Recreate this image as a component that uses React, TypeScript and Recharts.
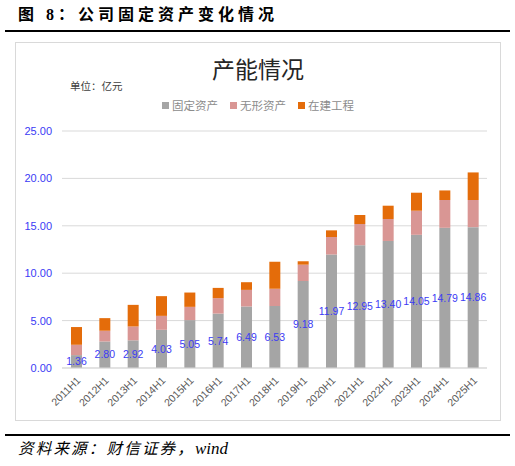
import React from 'react';
import { BarChart, Bar, XAxis, YAxis, CartesianGrid, Legend, LabelList } from 'recharts';

const periods = ['2011H1', '2012H1', '2013H1', '2014H1', '2015H1', '2016H1', '2017H1', '2018H1',
  '2019H1', '2020H1', '2021H1', '2022H1', '2023H1', '2024H1', '2025H1'];
const fixedAssets = [1.36, 2.80, 2.92, 4.03, 5.05, 5.74, 6.49, 6.53, 9.18, 11.97, 12.95, 13.40, 14.05, 14.79, 14.86];
const intangibleAssets = [1.09, 1.13, 1.46, 1.47, 1.40, 1.63, 1.75, 1.82, 1.72, 1.85, 2.24, 2.32, 2.54, 2.93, 2.86];
const construction = [1.87, 1.33, 2.28, 2.08, 1.51, 1.08, 0.81, 2.87, 0.36, 0.70, 0.95, 1.40, 1.90, 1.01, 2.91];
const yTicks = [0, 5, 10, 15, 20, 25];

const seriesNames = ['固定资产', '无形资产', '在建工程'];
const colors = ['#a5a5a5', '#d99694', '#e46c0a'];

const data = periods.map((p, i) => ({
  period: p,
  fixed: fixedAssets[i],
  intangible: intangibleAssets[i],
  construction: construction[i],
}));

const BLUE = '#3b3bf5';

const XTick = (props: any) => {
  const { x, y, payload } = props;
  return (
    <text
      x={x + 5}
      y={y + 5}
      transform={`rotate(-45, ${x + 5}, ${y + 5})`}
      textAnchor="end"
      fill="#595959"
      fontSize={10.5}
      fontFamily="'Liberation Sans', Arial, sans-serif"
    >
      {payload.value}
    </text>
  );
};

const LegendBox = () => (
  <div style={{ display: 'flex', alignItems: 'center', fontFamily: "'Noto Sans CJK SC', sans-serif", fontSize: 11.5, color: '#8c8c8c' }}>
    {seriesNames.map((n, i) => (
      <div key={n} style={{ display: 'flex', alignItems: 'center', marginRight: 12 }}>
        <span style={{ width: 7, height: 7, background: colors[i], marginRight: 3, display: 'inline-block' }} />
        <span>{n}</span>
      </div>
    ))}
  </div>
);

export default function App() {
  return (
    <div style={{ position: 'absolute', left: 0, top: 0, width: 515, height: 466, background: '#fff' }}>
      <div style={{
        position: 'absolute', left: 18, top: 4, fontSize: 16, fontWeight: 'bold', letterSpacing: 4,
        fontFamily: "'Liberation Serif', 'Noto Sans CJK SC', serif", color: '#000', lineHeight: '22px', whiteSpace: 'nowrap',
      }}>
        图 8：公司固定资产变化情况
      </div>
      <div style={{ position: 'absolute', left: 5, top: 30, width: 505, height: 2, background: '#000' }} />

      <div style={{ position: 'absolute', left: 15, top: 42, width: 486, height: 379, border: '1px solid #d9d9d9', boxSizing: 'border-box' }}>
        <div style={{
          position: 'absolute', left: 0, width: '100%', top: 9, textAlign: 'center', fontSize: 23,
          fontFamily: "'Noto Sans CJK SC', sans-serif", color: '#262626', lineHeight: '32px',
        }}>
          产能情况
        </div>
        <div style={{
          position: 'absolute', left: 54, top: 35, fontSize: 10.5,
          fontFamily: "'Noto Sans CJK SC', sans-serif", color: '#404040', lineHeight: '16px',
        }}>
          单位：亿元
        </div>
        <BarChart width={484} height={377} data={data} margin={{ top: 88, right: 13, left: 0, bottom: 0 }}>
          <CartesianGrid vertical={false} stroke="#d9d9d9" />
          <XAxis
            dataKey="period"
            interval={0}
            height={52}
            tickLine={false}
            axisLine={{ stroke: '#d9d9d9' }}
            tick={<XTick />}
          />
          <YAxis
            width={46}
            domain={[0, 25]}
            ticks={yTicks}
            tickFormatter={(v: number) => v.toFixed(2)}
            tickLine={false}
            axisLine={false}
            tickMargin={4}
            tick={{ fill: BLUE, fontSize: 11, fontFamily: "'Liberation Sans', Arial, sans-serif" }}
          />
          <Legend
            verticalAlign="middle"
            align="center"
            content={<LegendBox />}
            wrapperStyle={{ top: 54, left: 146, width: 'auto' }}
          />
          <Bar dataKey="fixed" name={seriesNames[0]} stackId="a" fill={colors[0]} barSize={11} isAnimationActive={false}>
            <LabelList
              dataKey="fixed"
              position="center"
              fill={BLUE}
              fontSize={10.5}
              fontFamily="'Liberation Sans', Arial, sans-serif"
              formatter={(v: any) => Number(v).toFixed(2)}
            />
          </Bar>
          <Bar dataKey="intangible" name={seriesNames[1]} stackId="a" fill={colors[1]} barSize={11} isAnimationActive={false} />
          <Bar dataKey="construction" name={seriesNames[2]} stackId="a" fill={colors[2]} barSize={11} isAnimationActive={false} />
        </BarChart>
      </div>

      <div style={{ position: 'absolute', left: 5, top: 434, width: 505, height: 2, background: '#000' }} />
      <div style={{
        position: 'absolute', left: 18, top: 439, fontSize: 15.5, fontStyle: 'italic',
        fontFamily: "'Liberation Serif', 'Noto Sans CJK SC', serif", color: '#000', lineHeight: '20px', whiteSpace: 'nowrap',
      }}>
        <span style={{ letterSpacing: 2.2 }}>资料来源：财信证券，</span>
        <span style={{ fontSize: 17 }}>wind</span>
      </div>
    </div>
  );
}
